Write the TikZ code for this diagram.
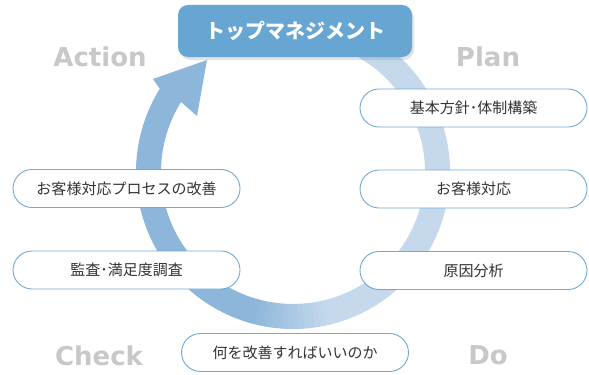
\documentclass[tikz,border=0pt]{standalone}
\usepackage{fontspec}
\setmainfont{Noto Sans CJK JP}
\newfontfamily\lbl{DejaVu Sans}
\usetikzlibrary{calc,shadows}
\definecolor{ringlight}{HTML}{C6D9EC}
\definecolor{ringdark}{HTML}{8CB6DA}
\definecolor{topblue}{HTML}{67A5D2}
\definecolor{boxline}{HTML}{6FA9D6}
\definecolor{txt}{HTML}{333333}
\definecolor{phasegray}{HTML}{C8C8C8}
\begin{document}
\begin{tikzpicture}[x=1bp,y=1bp,
  stepbox/.style={draw=boxline, line width=0.9bp, fill=white, rounded corners=19bp,
    minimum width=227bp, minimum height=38bp, inner sep=0pt,
    font=\fontsize{15bp}{18bp}\selectfont, text=txt},
  phase/.style={font=\lbl\bfseries\fontsize{26bp}{30bp}\selectfont, text=phasegray},
  topbox/.style={fill=topblue, rounded corners=10bp, minimum width=234bp, minimum height=52bp,
    text=white, font=\bfseries\fontsize{20bp}{24bp}\selectfont,
    drop shadow={shadow xshift=2bp, shadow yshift=-3bp, opacity=0.22}}]
\useasboundingbox (0,0) rectangle (589,374);
\coordinate (C) at (293,202);
\def\ro{157}
\def\ri{132}
% light part of the cycle
\fill[ringlight] ($(C)+(80:\ro)$) arc[start angle=80,end angle=-77,radius=\ro]
  -- ($(C)+(-77:\ri)$) arc[start angle=-77,end angle=80,radius=\ri] -- cycle;
% gradient part
\foreach \i in {0,...,14}{
  \pgfmathsetmacro\a{-76-2*\i}
  \pgfmathsetmacro\b{\a-2.4}
  \pgfmathsetmacro\p{\i*100/15+3}
  \fill[ringdark!\p!ringlight] ($(C)+(\a:\ro)$) arc[start angle=\a,end angle=\b,radius=\ro]
    -- ($(C)+(\b:\ri)$) arc[start angle=\b,end angle=\a,radius=\ri] -- cycle;
}
% dark part with arrow head
\coordinate (lb) at (153,295);
\coordinate (tip) at (207,314);
\coordinate (rb) at (197,258);
\fill[ringdark] ($(C)+(-105:\ro)$) arc[start angle=-105,end angle=-212,radius=\ro]
  -- (lb) -- (tip) -- (rb)
  -- ($(C)+(148:\ri)$) arc[start angle=148,end angle=255,radius=\ri] -- cycle;
% top box
\node[topbox] (top) at (295,343) {トップマネジメント};
% boxes
\node[stepbox] (p1) at (473.5,266) {基本方針･体制構築};
\node[stepbox] (p2) at (473.5,185) {お客様対応};
\node[stepbox] (p3) at (473.5,103.5) {原因分析};
\node[stepbox] (d1) at (295,21.5) {何を改善すればいいのか};
\node[stepbox] (c1) at (126.5,104) {監査･満足度調査};
\node[stepbox] (a1) at (126.5,185.5) {お客様対応プロセスの改善};
% phase labels
\node[phase] (act) at (100,317) {Action};
\node[phase] (plan) at (488,317) {Plan};
\node[phase] (chk) at (99,18) {Check};
\node[phase] (do) at (488,19) {Do};
\end{tikzpicture}
\end{document}
